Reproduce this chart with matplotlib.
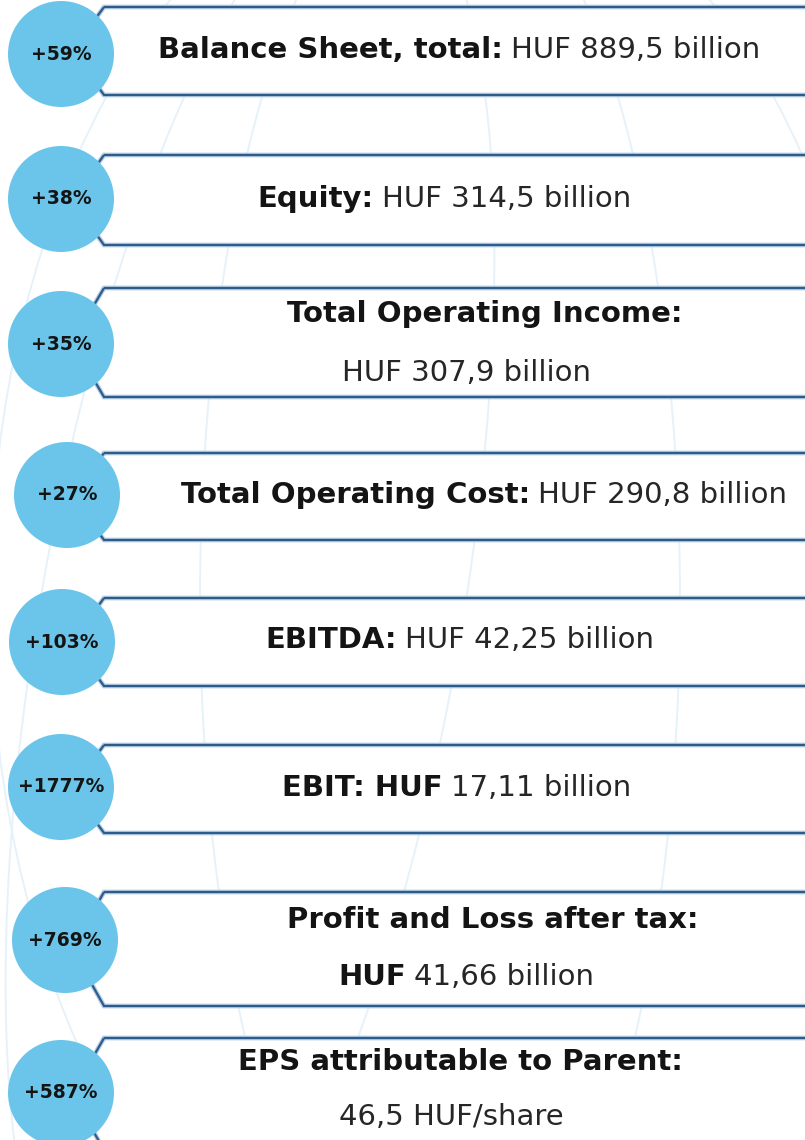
import matplotlib
matplotlib.use("Agg")
import matplotlib.pyplot as plt
from matplotlib.patches import Circle, Polygon, Ellipse

# ---- data ----
pct_labels = ["+59%", "+38%", "+35%", "+27%", "+103%", "+1777%", "+769%", "+587%"]
line1_bold = ["Balance Sheet, total:", "Equity:", "Total Operating Income:",
              "Total Operating Cost:", "EBITDA:", "EBIT: HUF",
              "Profit and Loss after tax:", "EPS attributable to Parent:"]
line1_regular = ["HUF 889,5 billion", "HUF 314,5 billion", "",
                 "HUF 290,8 billion", "HUF 42,25 billion", "17,11 billion", "", ""]
line2_bold = ["", "", "", "", "", "", "HUF", ""]
line2_regular = ["", "", "HUF 307,9 billion", "", "", "", "41,66 billion", "46,5 HUF/share"]

# ---- layout (pixels) ----
W, H = 805, 1140
box_top = [7, 155, 288, 453, 598, 745, 892, 1038]
box_bot = [95, 245, 397, 540, 686, 833, 1006, 1150]
circ_cx = [61, 61, 61, 67, 62, 61, 65, 61]
circ_cy = [54, 199, 344, 495, 642, 787, 940, 1093]
circ_r = 53
text_cx = [459, 444, 485, 484, 460, 457, 493, 460]
text2_cx = [0, 0, 466, 0, 0, 0, 466, 451]
base1 = [58, 207, 322, 503, 648, 796, 928, 1070]
base2 = [0, 0, 381, 0, 0, 0, 985, 1125]

FONT = "DejaVu Sans"
FS = 21
circle_color = "#6BC5EA"
edge_dark = "#2C5B8C"
edge_light = "#B5CCE2"

fig = plt.figure(figsize=(W / 100, H / 100), dpi=100)
ax = fig.add_axes([0, 0, 1, 1])
ax.set_xlim(0, W)
ax.set_ylim(H, 0)
ax.axis("off")

# faint globe lines in the background
globe = dict(fill=False, edgecolor="#E6F2FA", lw=1.4, zorder=0)
ax.add_patch(Ellipse((440, 600), 900, 1500, **globe))
ax.add_patch(Ellipse((440, 600), 480, 1500, **globe))
ax.add_patch(Ellipse((250, 620), 420, 1500, angle=10, **globe))

renderer = fig.canvas.get_renderer()


def mixed_line(xc, yb, bold, regular):
    parts = []
    if bold:
        parts.append(ax.text(0, yb, bold, fontfamily=FONT, fontweight="bold",
                             fontsize=FS, color="#141414", va="baseline", ha="left", zorder=5))
    if regular:
        parts.append(ax.text(0, yb, regular, fontfamily=FONT, fontweight="normal",
                             fontsize=FS, color="#262626", va="baseline", ha="left", zorder=5))
    gap = FS * 0.4
    widths = [p.get_window_extent(renderer).width for p in parts]
    total = sum(widths) + gap * (len(parts) - 1)
    x = xc - total / 2
    for p, w in zip(parts, widths):
        p.set_x(x)
        x += w + gap


for i in range(len(pct_labels)):
    t, b = box_top[i], box_bot[i]
    mid = (t + b) / 2
    verts = [(104, t), (W + 20, t), (W + 20, b), (104, b), (72, mid)]
    ax.add_patch(Polygon(verts, closed=True, facecolor="white", edgecolor=edge_light,
                         lw=3.4, zorder=2, joinstyle="miter"))
    ax.add_patch(Polygon(verts, closed=True, facecolor="none", edgecolor=edge_dark,
                         lw=1.6, zorder=3, joinstyle="miter"))
    ax.add_patch(Circle((circ_cx[i], circ_cy[i]), circ_r, facecolor=circle_color,
                        edgecolor="none", zorder=4))
    ax.text(circ_cx[i], circ_cy[i], pct_labels[i], fontfamily=FONT, fontweight="bold",
            fontsize=13.5, color="#141414", ha="center", va="center", zorder=6)
    mixed_line(text_cx[i], base1[i], line1_bold[i], line1_regular[i])
    if line2_bold[i] or line2_regular[i]:
        mixed_line(text2_cx[i], base2[i], line2_bold[i], line2_regular[i])

fig.savefig("out.png", dpi=100, facecolor="white")
